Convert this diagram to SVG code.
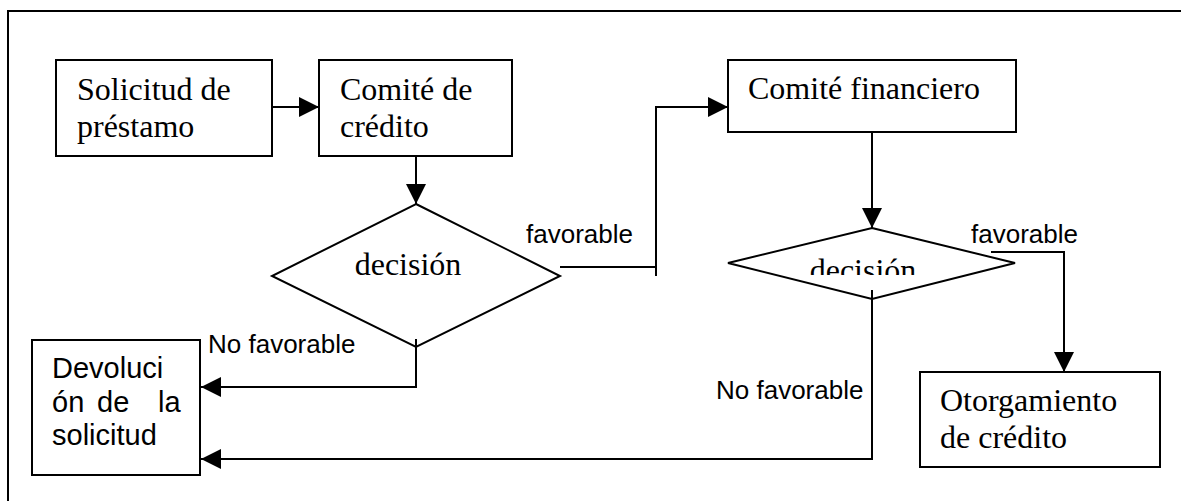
<svg xmlns="http://www.w3.org/2000/svg" width="1181" height="501" viewBox="0 0 1181 501">
<style>
.box{fill:#fff;stroke:#000;stroke-width:2}
.ln{fill:none;stroke:#000;stroke-width:2}
.serif{font-family:"Liberation Serif","Times New Roman",serif;font-size:32px;fill:#000}
.sans{font-family:"Liberation Sans",Arial,sans-serif;font-size:29px;fill:#000}
.lbl{font-family:"Liberation Sans",Arial,sans-serif;font-size:26px;fill:#000}
</style>
<defs>
<marker id="ah" viewBox="0 0 20 20" refX="20" refY="10" markerWidth="20" markerHeight="20" markerUnits="userSpaceOnUse" orient="auto">
<path d="M0,0 L20,10 L0,20 Z" fill="#000"/>
</marker>
<clipPath id="clipD2"><rect x="700" y="200" width="350" height="75"/></clipPath>
</defs>
<rect width="1181" height="501" fill="#fff"/>
<g id="frame">
<path class="ln" d="M8,501 V11 H1181" stroke-width="2"/>
</g>
<g id="solicitud">
<rect class="box" x="56" y="60" width="216" height="96"/>
<text class="serif" x="77" y="100">Solicitud de</text>
<text class="serif" x="77" y="137">préstamo</text>
</g>
<g id="comite-credito">
<rect class="box" x="319" y="60" width="193" height="96"/>
<text class="serif" x="340" y="100">Comité de</text>
<text class="serif" x="340" y="137">crédito</text>
</g>
<g id="decision1">
<polygon class="box" points="416,204 560,276 416,347 272,276"/>
<text class="serif" x="408" y="275" text-anchor="middle">decisión</text>
</g>
<g id="comite-financiero">
<rect class="box" x="728" y="60" width="288" height="72"/>
<text class="serif" x="748" y="99">Comité financiero</text>
</g>
<g id="decision2">
<polygon class="box" points="872,228 1015,263 872,299 728,263"/>
<text class="serif" x="863" y="281" text-anchor="middle" clip-path="url(#clipD2)">decisión</text>
</g>
<g id="otorgamiento">
<rect class="box" x="920" y="372" width="240" height="95"/>
<text class="serif" x="940" y="411">Otorgamiento</text>
<text class="serif" x="940" y="448">de crédito</text>
</g>
<g id="devolucion">
<rect class="box" x="32" y="340" width="168" height="135"/>
<text class="sans" x="52" y="378">Devoluci</text>
<text class="sans" y="412"><tspan x="52">ón</tspan><tspan x="97">de</tspan><tspan x="158">la</tspan></text>
<text class="sans" x="52" y="445">solicitud</text>
</g>
<g id="connectors">
<path class="ln" d="M272,107 H319" marker-end="url(#ah)"/>
<path class="ln" d="M416,156 V204" marker-end="url(#ah)"/>
<path class="ln" d="M560,267 H656 M656,276 V107 H728" marker-end="url(#ah)"/>
<path class="ln" d="M872,132 V228" marker-end="url(#ah)"/>
<path class="ln" d="M991,252 H1064 V372" marker-end="url(#ah)"/>
<path class="ln" d="M416,339 V387 H201" marker-end="url(#ah)"/>
<path class="ln" d="M872,290 V459 H201" marker-end="url(#ah)"/>
<text class="lbl" x="526" y="243">favorable</text>
<text class="lbl" x="971" y="243">favorable</text>
<text class="lbl" x="208" y="353">No favorable</text>
<text class="lbl" x="716" y="399">No favorable</text>
</g>
</svg>
